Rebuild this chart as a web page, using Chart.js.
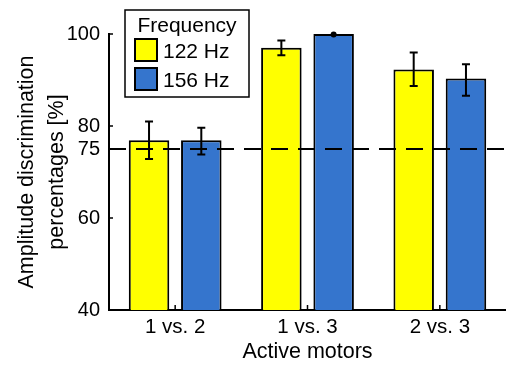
<!DOCTYPE html>
<html lang="en">
<head>
<meta charset="UTF-8">
<title>Amplitude discrimination</title>
<script src="https://cdn.jsdelivr.net/npm/chart.js"></script>
<style>
    html, body { margin: 0; padding: 0; background: #fff; }
    #wrap { width: 506px; height: 367px; }
</style>
</head>
<body>
<div id="wrap"><canvas id="chart" width="506" height="367"></canvas></div>
<script>
// data
const categories = ['1 vs. 2', '1 vs. 3', '2 vs. 3'];
const labels122 = '122 Hz';
const labels156 = '156 Hz';
const f122 = [76.9, 97.0, 92.3];
const f122Low = [72.8, 95.4, 88.7];
const f122High = [81.0, 98.6, 96.0];
const f156 = [76.9, 100, 90.3];
const f156Low = [73.8, 99.8, 86.6];
const f156High = [79.6, 100, 93.4];
const yTicks = [40, 60, 75, 80, 100];
const chanceLevel = 75;

const FONT = "'Liberation Sans', Arial, sans-serif";
const errors = [[f122Low, f122High], [f156Low, f156High]];

// inward ticks, error bars, 75% line and the legend box
const extras = {
    id: 'extras',
    afterDatasetsDraw(chart) {
        const ctx = chart.ctx;
        const x = chart.scales.x, y = chart.scales.y;
        const area = chart.chartArea;
        ctx.save();
        ctx.strokeStyle = '#000';
        ctx.fillStyle = '#000';

        // error bars
        ctx.lineWidth = 2;
        chart.data.datasets.forEach((ds, i) => {
            const meta = chart.getDatasetMeta(i);
            meta.data.forEach((bar, j) => {
                const lo = y.getPixelForValue(errors[i][0][j]);
                const hi = y.getPixelForValue(errors[i][1][j]);
                if (lo - hi < 3) {
                    ctx.beginPath();
                    ctx.arc(bar.x, (lo + hi) / 2, 3, 0, Math.PI * 2);
                    ctx.fill();
                    return;
                }
                ctx.beginPath();
                ctx.moveTo(bar.x, lo); ctx.lineTo(bar.x, hi);
                ctx.moveTo(bar.x - 4, lo); ctx.lineTo(bar.x + 4, lo);
                ctx.moveTo(bar.x - 4, hi); ctx.lineTo(bar.x + 4, hi);
                ctx.stroke();
            });
        });

        // chance level
        const yc = y.getPixelForValue(chanceLevel);
        ctx.lineWidth = 2;
        ctx.setLineDash([17, 10]);
        ctx.beginPath();
        ctx.moveTo(area.left, yc);
        ctx.lineTo(chart.width, yc);
        ctx.stroke();
        ctx.setLineDash([]);

        // inward ticks
        ctx.lineWidth = 1.5;
        ctx.beginPath();
        yTicks.forEach(v => {
            const py = y.getPixelForValue(v);
            ctx.moveTo(area.left, py); ctx.lineTo(area.left + 4, py);
        });
        categories.forEach((c, i) => {
            const px = x.getPixelForValue(i);
            ctx.moveTo(px, area.bottom); ctx.lineTo(px, area.bottom - 5);
        });
        ctx.stroke();

        // legend
        const lx = 125, ly = 10, lw = 124, lh = 87;
        ctx.fillStyle = '#fff';
        ctx.fillRect(lx, ly, lw, lh);
        ctx.lineWidth = 1.5;
        ctx.strokeRect(lx, ly, lw, lh);
        ctx.fillStyle = '#000';
        ctx.font = '21px ' + FONT;
        ctx.textAlign = 'center';
        ctx.textBaseline = 'alphabetic';
        ctx.fillText('Frequency', lx + lw / 2, ly + 22);
        ctx.textAlign = 'left';
        chart.data.datasets.forEach((ds, i) => {
            const sy = ly + 29 + i * 29;
            ctx.fillStyle = ds.backgroundColor;
            ctx.fillRect(lx + 10, sy, 22, 22);
            ctx.lineWidth = 2;
            ctx.strokeRect(lx + 10, sy, 22, 22);
            ctx.fillStyle = '#000';
            ctx.fillText(ds.label, lx + 38, sy + 19);
        });
        ctx.restore();
    }
};

new Chart(document.getElementById('chart'), {
    type: 'bar',
    data: {
        labels: categories,
        datasets: [
            { label: labels122, data: f122, backgroundColor: '#FFFF00', borderColor: '#000', borderWidth: 2 },
            { label: labels156, data: f156, backgroundColor: '#3575CD', borderColor: '#000', borderWidth: 2 }
        ]
    },
    options: {
        responsive: false,
        animation: false,
        devicePixelRatio: 1,
        categoryPercentage: 0.79,
        barPercentage: 0.775,
        layout: { padding: { top: 34, right: 0, bottom: 0, left: 0 } },
        plugins: { legend: { display: false }, tooltip: { enabled: false } },
        scales: {
            x: {
                grid: { display: false, drawTicks: false },
                border: { display: true, color: '#000', width: 2 },
                ticks: { color: '#000', padding: 5, font: { family: FONT, size: 20.5 } },
                title: {
                    display: true, text: 'Active motors', color: '#000',
                    font: { family: FONT, size: 21.5, lineHeight: 1.2 }, padding: { top: 0, bottom: 2 }
                },
                afterFit: s => { s.height = 57; }
            },
            y: {
                min: 40, max: 100,
                grid: { display: false, drawTicks: false },
                border: { display: true, color: '#000', width: 2 },
                afterBuildTicks: s => { s.ticks = yTicks.map(v => ({ value: v })); },
                ticks: { color: '#000', padding: 9, autoSkip: false, font: { family: FONT, size: 20 } },
                title: {
                    display: true, text: ['Amplitude discrimination', 'percentages [%]'], color: '#000',
                    font: { family: FONT, size: 21.5, lineHeight: 1.4 }, padding: { top: 12, bottom: 0 }
                },
                afterFit: s => { s.width = 109; }
            }
        }
    },
    plugins: [extras]
});
</script>
</body>
</html>
